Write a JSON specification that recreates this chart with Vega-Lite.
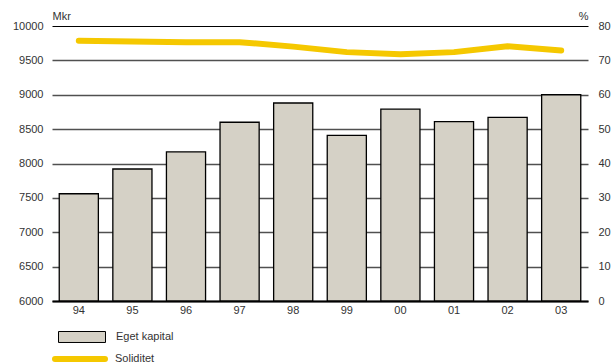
{
  "$schema": "https://vega.github.io/schema/vega-lite/v6.json",
  "width": 536,
  "height": 275,
  "autosize": {"type": "none"},
  "padding": {"left": 52, "top": 26, "right": 23, "bottom": 62},
  "background": "white",
  "config": {
    "view": {"stroke": null},
    "font": "Liberation Sans",
    "axis": {"labelFont": "Liberation Sans", "labelFontSize": 11, "labelColor": "#333333", "titleFont": "Liberation Sans", "titleFontSize": 11, "titleFontWeight": "normal", "titleColor": "#333333"},
    "legend": {"labelFont": "Liberation Sans", "labelFontSize": 11, "labelColor": "#333333", "padding": 0}
  },
  "data": {
    "values": [
      {"year": "94", "kapital": 7560, "soliditet": 75.7},
      {"year": "95", "kapital": 7920, "soliditet": 75.5},
      {"year": "96", "kapital": 8170, "soliditet": 75.3},
      {"year": "97", "kapital": 8600, "soliditet": 75.3},
      {"year": "98", "kapital": 8880, "soliditet": 74.0},
      {"year": "99", "kapital": 8410, "soliditet": 72.4},
      {"year": "00", "kapital": 8790, "soliditet": 71.8},
      {"year": "01", "kapital": 8610, "soliditet": 72.4},
      {"year": "02", "kapital": 8670, "soliditet": 74.1},
      {"year": "03", "kapital": 9000, "soliditet": 72.9}
    ]
  },
  "encoding": {
    "x": {
      "field": "year",
      "type": "nominal",
      "sort": null,
      "scale": {"paddingInner": 0.27, "paddingOuter": 0.135},
      "axis": {"title": null, "labelAngle": 0, "ticks": false, "labelPadding": 3, "domainColor": "black", "domainWidth": 2}
    }
  },
  "layer": [
    {
      "mark": {"type": "bar", "stroke": "black", "strokeWidth": 1.3},
      "encoding": {
        "y": {
          "field": "kapital",
          "type": "quantitative",
          "scale": {"domain": [6000, 10000], "zero": false, "nice": false},
          "axis": {
            "title": "Mkr",
            "titleAngle": 0,
            "titleX": 0,
            "titleY": -5,
            "titleAlign": "left",
            "titleBaseline": "bottom",
            "values": [6000, 6500, 7000, 7500, 8000, 8500, 9000, 9500, 10000],
            "format": "d",
            "grid": true,
            "gridColor": {"condition": {"test": "datum.value === 10000", "value": "black"}, "value": "#505050"},
            "gridWidth": {"condition": {"test": "datum.value === 10000", "value": 1}, "value": 1.6},
            "domain": false,
            "ticks": false,
            "labelPadding": 9
          }
        },
        "y2": {"datum": 6000},
        "fill": {
          "datum": "Eget kapital",
          "scale": {"range": ["#d5d1c6"]},
          "legend": {
            "title": null,
            "orient": "none",
            "legendX": 6,
            "legendY": 287,
            "symbolType": "M-1,-0.234H1V0.234H-1Z",
            "symbolSize": 2209,
            "symbolStrokeColor": "black",
            "symbolStrokeWidth": 1,
            "symbolOpacity": 1,
            "labelOffset": 10
          }
        }
      }
    },
    {
      "mark": {"type": "line", "strokeWidth": 6, "strokeCap": "round", "strokeJoin": "round"},
      "encoding": {
        "y": {
          "field": "soliditet",
          "type": "quantitative",
          "scale": {"domain": [0, 80], "nice": false},
          "axis": {
            "title": "%",
            "orient": "right",
            "titleAngle": 0,
            "titleX": 0,
            "titleY": -5,
            "titleAlign": "right",
            "titleBaseline": "bottom",
            "values": [0, 10, 20, 30, 40, 50, 60, 70, 80],
            "grid": false,
            "domain": false,
            "ticks": false,
            "labelPadding": 10
          }
        },
        "stroke": {
          "datum": "Soliditet",
          "scale": {"range": ["#f5c800"]},
          "legend": {
            "title": null,
            "orient": "none",
            "legendX": 0,
            "legendY": 305,
            "symbolType": "stroke",
            "symbolSize": 2500,
            "symbolStrokeWidth": 6,
            "labelOffset": 7,
            "encode": {"symbols": {"update": {"strokeCap": {"value": "round"}}}}
          }
        }
      }
    }
  ],
  "resolve": {"scale": {"y": "independent"}}
}
